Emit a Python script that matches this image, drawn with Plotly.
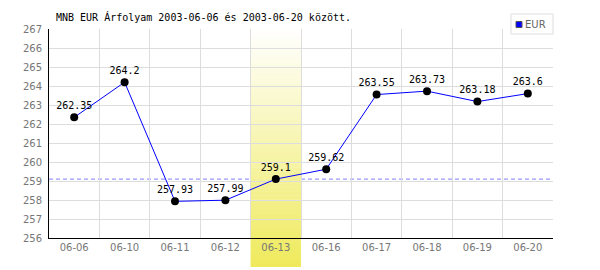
import plotly.graph_objects as go

dates = ["06-06", "06-10", "06-11", "06-12", "06-13", "06-16", "06-17", "06-18", "06-19", "06-20"]
rates = [262.35, 264.2, 257.93, 257.99, 259.1, 259.62, 263.55, 263.73, 263.18, 263.6]
series_name = "EUR"
highlight_date = "06-13"
title_text = "MNB EUR Árfolyam 2003-06-06 és 2003-06-20 között."
y_min, y_max = 256, 267

W, H = 600, 270
ML, MR, MT, MB = 49, 47, 29, 32
plot_h = H - MT - MB

fig = go.Figure()
fig.add_trace(go.Scatter(
    x=dates, y=rates, mode="lines+markers+text",
    name=series_name,
    line=dict(color="#0000ff", width=1),
    marker=dict(color="#000000", size=8),
    text=[f"{v:g}" for v in rates],
    textposition="top center",
    textfont=dict(family="DejaVu Sans Mono", size=10, color="#000000"),
    showlegend=False,
    cliponaxis=False,
))

shapes = []
# reference dashed line at highlighted value
hi_idx = dates.index(highlight_date)
hi_val = rates[hi_idx]
shapes.append(dict(type="line", xref="paper", yref="y", x0=0, x1=1, y0=hi_val, y1=hi_val,
                   line=dict(color="#7f7fff", width=1, dash="4px,3px"), layer="below"))

# gradient highlight band
bottom_paper = -(MB - 3) / plot_h
N = 60
top_c = (255, 255, 255)
bot_c = (239, 234, 92)
for i in range(N):
    f0 = i / N
    f1 = (i + 1) / N
    y0 = 1 - f0 * (1 - bottom_paper)
    y1 = 1 - f1 * (1 - bottom_paper)
    t = (i + 0.5) / N
    c = tuple(round(top_c[k] + (bot_c[k] - top_c[k]) * t) for k in range(3))
    shapes.append(dict(type="rect", xref="x", yref="paper",
                       x0=hi_idx - 0.5, x1=hi_idx + 0.5, y0=y1, y1=y0 + 0.002,
                       fillcolor="rgb(%d,%d,%d)" % c, line=dict(width=0), layer="between"))

# legend box
shapes.append(dict(type="rect", xref="paper", yref="paper",
                   x0=(511 - ML) / (W - ML - MR), x1=(553 - ML) / (W - ML - MR),
                   y0=1 + (MT - 34) / plot_h, y1=1 + (MT - 14) / plot_h,
                   line=dict(color="#dddddd", width=1), fillcolor="white", layer="above"))
shapes.append(dict(type="rect", xref="paper", yref="paper",
                   x0=(516 - ML) / (W - ML - MR), x1=(522 - ML) / (W - ML - MR),
                   y0=1 + (MT - 27.5) / plot_h, y1=1 + (MT - 21.5) / plot_h,
                   line=dict(color="#555555", width=1), fillcolor="#0000ff", layer="above"))

fig.update_layout(
    width=W, height=H,
    margin=dict(l=ML, r=MR, t=MT, b=MB),
    paper_bgcolor="white", plot_bgcolor="white",
    shapes=shapes,
    annotations=[
        dict(text=title_text, xref="paper", yref="paper", x=(54 - ML) / (W - ML - MR),
             y=1 + (MT - 17) / plot_h, xanchor="left", yanchor="middle", showarrow=False,
             font=dict(family="DejaVu Sans Mono", size=10, color="#000000")),
        dict(text=series_name, xref="paper", yref="paper", x=(523 - ML) / (W - ML - MR),
             y=1 + (MT - 24.5) / plot_h, xanchor="left", yanchor="middle", showarrow=False,
             font=dict(family="DejaVu Sans", size=10, color="#666666")),
    ],
    xaxis=dict(type="category", range=[-0.5, len(dates) - 0.5], tickson="boundaries",
               showgrid=True, gridcolor="#dddddd", gridwidth=1,
               showline=True, linecolor="#000000", linewidth=1, ticks="",
               tickfont=dict(family="DejaVu Sans", size=10, color="#777777"),
               fixedrange=True, mirror=False, zeroline=False),
    yaxis=dict(range=[y_min, y_max], dtick=1, showgrid=True, gridcolor="#dddddd", gridwidth=1,
               showline=True, linecolor="#000000", linewidth=1, ticks="",
               tickfont=dict(family="DejaVu Sans", size=10, color="#777777"),
               zeroline=False, ticklabelstandoff=4),
    showlegend=False,
)

fig.write_html("out.html")
